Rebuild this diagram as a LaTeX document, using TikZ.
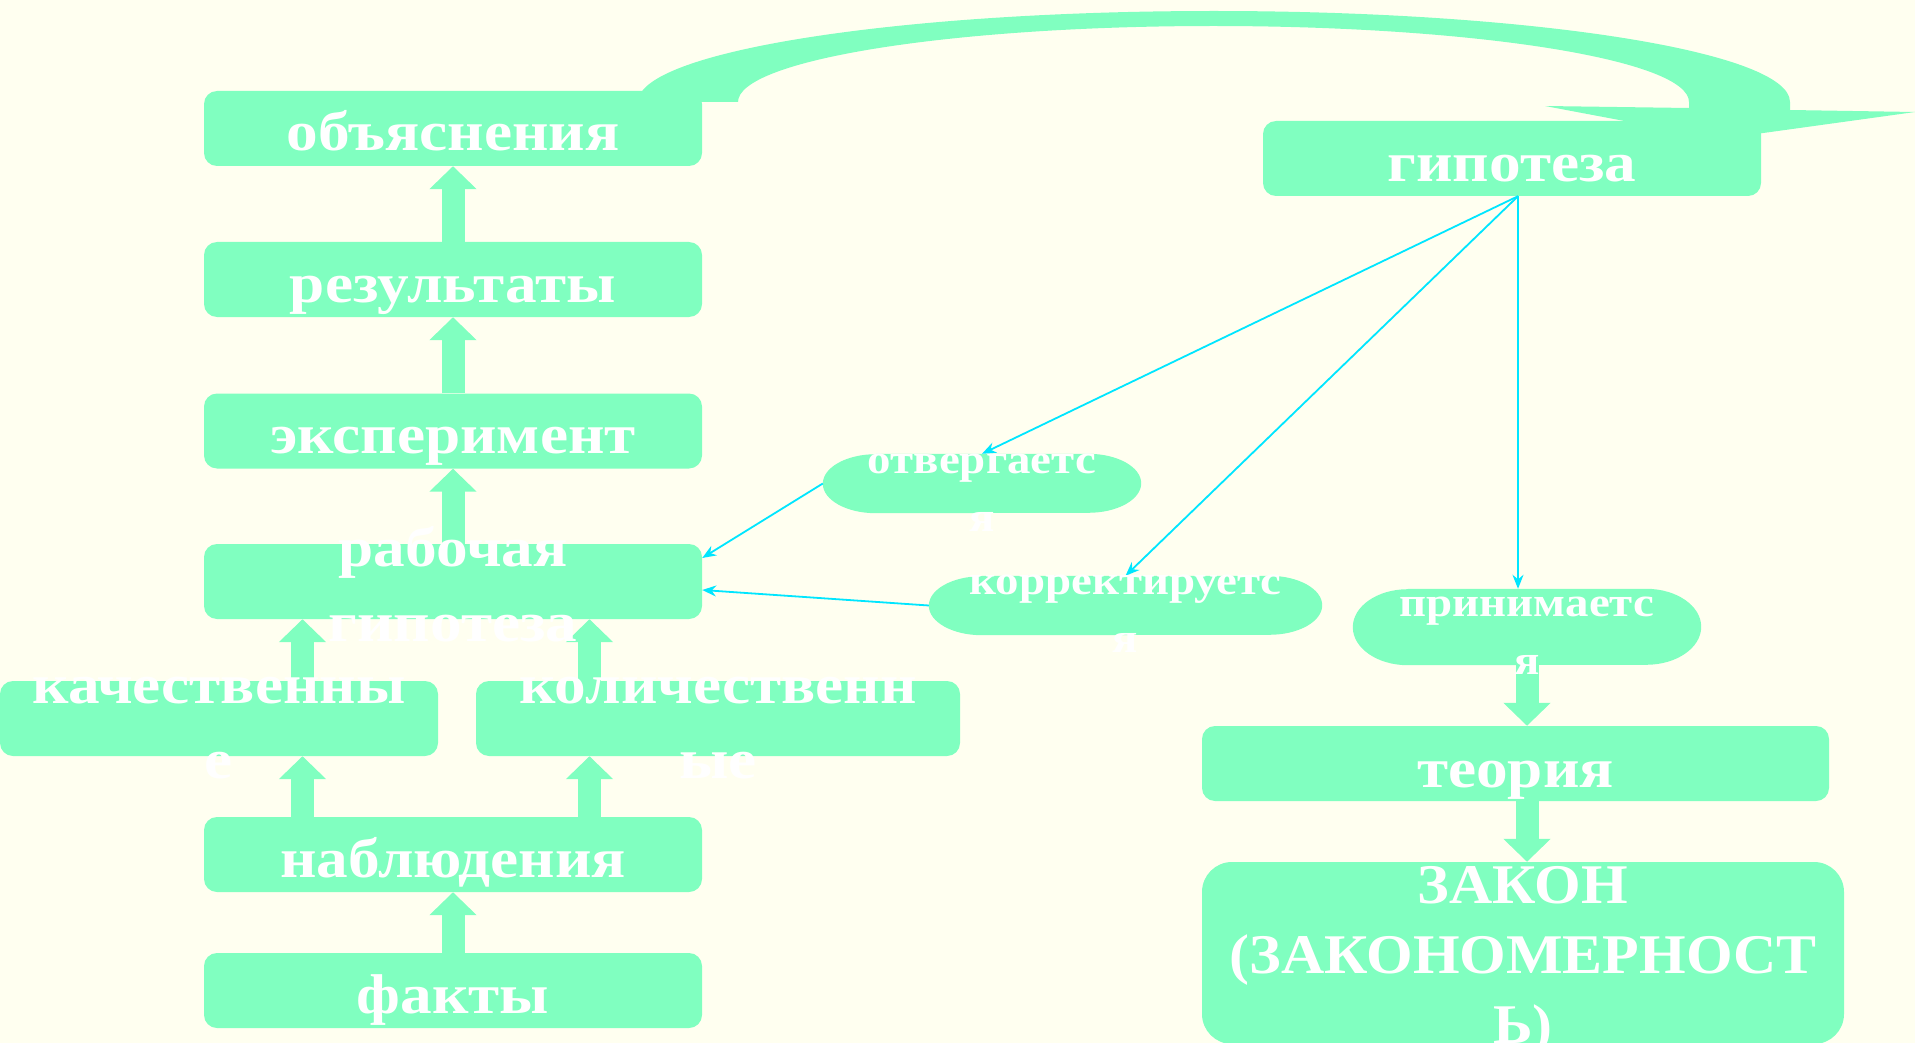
\documentclass[tikz,border=0pt]{standalone}
\usepackage{fontspec}
\usetikzlibrary{arrows.meta}
\newfontfamily\gfont{Liberation Serif}[FakeStretch=1.13]
\newfontfamily\zfont{Liberation Serif}[FakeStretch=1.07]
\definecolor{bgc}{RGB}{255,255,240}
\definecolor{boxg}{RGB}{128,255,192}
\definecolor{linec}{RGB}{0,230,255}
\tikzset{
  mybox/.style={rectangle, rounded corners=13pt, fill=boxg, inner sep=0pt, minimum height=75pt},
  pillbase/.style={rectangle, inner sep=0pt},
  bigtxt/.style={text=white, inner sep=0pt, anchor=base, font=\gfont\bfseries\fontsize{56}{75}\selectfont},
  zaktxt/.style={text=white, inner sep=0pt, anchor=base, font=\zfont\bfseries\fontsize{56}{70}\selectfont},
  smalltxt/.style={text=white, inner sep=0pt, anchor=base, font=\gfont\bfseries\fontsize{41.5}{58}\selectfont},
  blk/.style={draw=boxg, line width=23pt, -{Triangle[length=23pt,width=46pt]}},
  cyanarrow/.style={draw=linec, line width=1.8pt, -{Stealth[length=14pt,width=11pt]}},
}
\newcommand{\pillfill}[3]{% name, x radius, y radius
  \fill[boxg] ([xshift=#2]#1.north west) -- ([xshift=-#2]#1.north east)
    arc[start angle=90, end angle=-90, x radius=#2, y radius=#3]
    -- ([xshift=#2]#1.south west)
    arc[start angle=270, end angle=90, x radius=#2, y radius=#3] -- cycle;}
\begin{document}
\begin{tikzpicture}[x=1pt, y=-1pt]
\useasboundingbox (0,0) rectangle (1915,1043);
\fill[bgc] (0,0) rectangle (1915,1043);

% big curved arrow from "объяснения" to "гипотеза"
\fill[boxg] (638,102) arc[start angle=180, end angle=0, x radius=576pt, y radius=91pt]
  -- (1790,110) -- (1915,112) -- (1720,139) -- (1545,106) -- (1689,108) -- (1689,102)
  arc[start angle=0, end angle=180, x radius=475.5pt, y radius=76pt] -- cycle;

% boxes
\node[mybox, minimum width=498pt] (obj) at (453,128.5) {};
\node[mybox, minimum width=498pt] (res) at (453,279.5) {};
\node[mybox, minimum width=498pt] (exp) at (453,431) {};
\node[mybox, minimum width=498pt] (rab) at (453,581.5) {};
\node[mybox, minimum width=438pt] (kach) at (219,718.5) {};
\node[mybox, minimum width=484pt] (kol) at (718,718.5) {};
\node[mybox, minimum width=498pt] (nab) at (453,854.5) {};
\node[mybox, minimum width=498pt] (fak) at (453,990.5) {};
\node[mybox, minimum width=498pt] (gip) at (1512,158.5) {};
\node[mybox, minimum width=627pt] (teo) at (1515.5,763.5) {};
\node[mybox, minimum width=642pt, minimum height=182pt, rounded corners=30pt] (zak) at (1523,953) {};

% pill shapes
\node[pillbase, minimum width=318pt, minimum height=59pt] (otv) at (982,483.5) {};
\node[pillbase, minimum width=393pt, minimum height=59pt] (kor) at (1125.5,605.5) {};
\node[pillbase, minimum width=348pt, minimum height=76pt] (prin) at (1527,627) {};
\pillfill{otv}{53pt}{29.5pt}
\pillfill{kor}{53pt}{29.5pt}
\pillfill{prin}{55pt}{38pt}

% block arrows
\coordinate (xa) at (302.5,0);
\coordinate (xb) at (589.5,0);
\draw[blk] (fak.north) -- (nab.south);
\draw[blk] (nab.north -| xa) -- (kach.south -| xa);
\draw[blk] (nab.north -| xb) -- (kol.south -| xb);
\draw[blk] (kach.north -| xa) -- (rab.south -| xa);
\draw[blk] (kol.north -| xb) -- (rab.south -| xb);
\draw[blk] (rab.north) -- (exp.south);
\draw[blk] (exp.north) -- (res.south);
\draw[blk] (res.north) -- (obj.south);
\draw[blk] (prin.south) -- (prin.south |- teo.north);
\draw[blk] (teo.south -| prin.south) -- (zak.north -| prin.south);

% thin connectors
\coordinate (gs) at ([xshift=6pt]gip.south);
\draw[cyanarrow] (gs) -- (otv.north);
\draw[cyanarrow] (gs) -- (kor.north);
\draw[cyanarrow] (gs) -- (gs |- prin.north);
\draw[cyanarrow] (otv.west) -- ([yshift=23.5pt]rab.east);
\draw[cyanarrow] (kor.west) -- ([yshift=-8.5pt]rab.east);

% texts
\node[bigtxt] (obj-t) at ([yshift=-22.5pt]obj.center) {объяснения};
\node[bigtxt] (res-t) at ([yshift=-22.5pt]res.center) {результаты};
\node[bigtxt] (exp-t) at ([yshift=-22.5pt]exp.center) {эксперимент};
\node[bigtxt] (rab-t) at ([yshift=15.5pt]rab.center) {\begin{tabular}[t]{@{}c@{}}рабочая\\гипотеза\end{tabular}};
\node[bigtxt] (kach-t) at ([yshift=15.5pt]kach.center) {\begin{tabular}[t]{@{}c@{}}качественны\\е\end{tabular}};
\node[bigtxt] (kol-t) at ([yshift=15.5pt]kol.center) {\begin{tabular}[t]{@{}c@{}}количественн\\ые\end{tabular}};
\node[bigtxt] (nab-t) at ([yshift=-22.5pt]nab.center) {наблюдения};
\node[bigtxt] (fak-t) at ([yshift=-22.5pt]fak.center) {факты};
\node[bigtxt] (gip-t) at ([yshift=-23.5pt]gip.center) {гипотеза};
\node[bigtxt] (teo-t) at ([yshift=-23.5pt]teo.center) {теория};
\node[zaktxt] (zak-t) at ([yshift=50pt]zak.center) {\begin{tabular}[t]{@{}c@{}}ЗАКОН\\(ЗАКОНОМЕРНОСТ\\Ь)\end{tabular}};
\node[smalltxt] (otv-t) at ([yshift=10.5pt]otv.center) {\begin{tabular}[t]{@{}c@{}}отвергаетс\\я\end{tabular}};
\node[smalltxt] (kor-t) at ([yshift=11.5pt]kor.center) {\begin{tabular}[t]{@{}c@{}}корректируетс\\я\end{tabular}};
\node[smalltxt] (prin-t) at ([yshift=11pt]prin.center) {\begin{tabular}[t]{@{}c@{}}принимаетс\\я\end{tabular}};
\end{tikzpicture}
\end{document}
